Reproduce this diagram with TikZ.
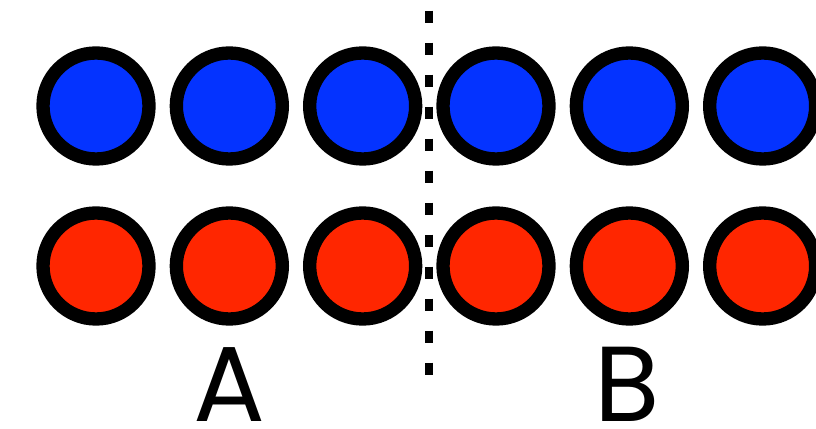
\documentclass[tikz,border=0pt]{standalone}
\usepackage{fontspec}
\setmainfont{Poppins}
\usetikzlibrary{positioning}
\definecolor{dotblue}{RGB}{4,51,255}
\definecolor{dotred}{RGB}{255,38,0}

\begin{document}
\begin{tikzpicture}[
        x=0.75pt, y=0.75pt,
        node distance = 100pt,
        dot/.style = {circle, draw=black, line width=10pt, minimum size=79.5pt, inner sep=0pt},
        bluedot/.style = {dot, fill=dotblue},
        reddot/.style = {dot, fill=dotred},
        divider/.style = {draw, line width=6pt, dash pattern=on 9pt off 15pt},
        side/.style = {anchor=base, inner sep=0pt, text depth=0pt, font=\fontsize{80}{80}\selectfont}
    ]
    \useasboundingbox (0,0) rectangle (816,428);

    \node [bluedot] (b1) at (96,322) {};
    \foreach \i [count=\j from 2] in {1,...,5}
        \node [bluedot, right of=b\i] (b\j) {};
    \foreach \i in {1,...,6}
        \node [reddot, below of=b\i, node distance=120pt] (r\i) {};

    \coordinate (top) at (429,417.3);
    \coordinate (bottom) at (429,53.3);
    \path [divider] (top) -- (bottom);

    \node [side] (sideA) at (229,7) {A};
    \node [side] (sideB) at (627,7) {B};
\end{tikzpicture}
\end{document}
